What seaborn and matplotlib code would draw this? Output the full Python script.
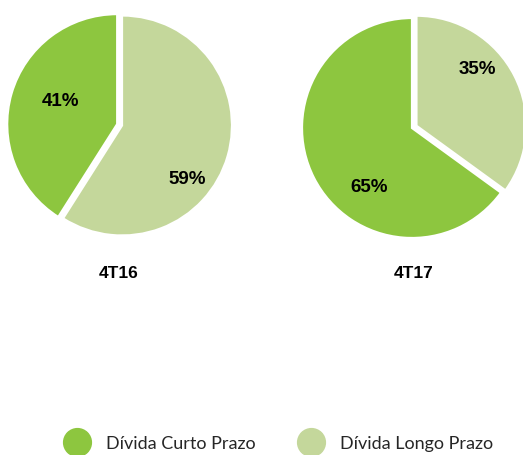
import matplotlib
matplotlib.use("Agg")
import matplotlib.pyplot as plt
import seaborn as sns
from matplotlib.lines import Line2D

# data
periods = ["4T16", "4T17"]
categories = ["Dívida Curto Prazo", "Dívida Longo Prazo"]
curto = [41, 65]
longo = [59, 35]

colors = ["#8DC63F", "#C4D79B"]

sns.set_theme(style="white")
plt.rcParams["font.family"] = ["Liberation Sans", "DejaVu Sans"]

W, H = 523, 456
fig = plt.figure(figsize=(W / 100, H / 100), dpi=100)
ax = fig.add_axes([0, 0, 1, 1])

# layout (pixel coords, y from top)
centers = [(122, 126.5), (412, 129)]
radius = 110
label_pos = [[(61, 102), (187, 179)], [(369, 188), (477, 69)]]
title_pos = [(119, 274), (414, 274)]

for i, p in enumerate(periods):
    vals = [curto[i], longo[i]]
    small = 0 if vals[0] < vals[1] else 1
    explode = [5 if k == small else 0 for k in range(2)]
    cx, cy = centers[i]
    wedges, texts, autotexts = ax.pie(
        vals, colors=colors, startangle=90, counterclock=True,
        center=(cx, H - cy), radius=radius, explode=explode,
        autopct=lambda pct: f"{round(pct)}%", frame=True,
        wedgeprops=dict(edgecolor="white", linewidth=1.6),
        textprops=dict(fontsize=13.5, fontweight="bold", color="black"))
    for t, (lx, ly) in zip(autotexts, label_pos[i]):
        t.set_position((lx, H - ly))
    tx, ty = title_pos[i]
    ax.text(tx, H - ty, p, ha="center", va="center", fontsize=12.5,
            fontweight="bold", color="black")

ax.set_xlim(0, W)
ax.set_ylim(0, H)
ax.set_aspect("auto")
ax.set_axis_off()

handles = [Line2D([], [], linestyle="none", marker="o", markersize=20,
                  markerfacecolor=c, markeredgecolor=c) for c in colors]
leg = ax.legend(handles, categories, loc="center left",
                bbox_to_anchor=(63.5 / W, 1 - 444 / H), ncol=2, frameon=False,
                handlelength=1.5, handletextpad=0.86, columnspacing=2.3,
                borderpad=0, borderaxespad=0,
                prop=dict(family="Lato", size=13))

fig.savefig("out.png", dpi=100)
